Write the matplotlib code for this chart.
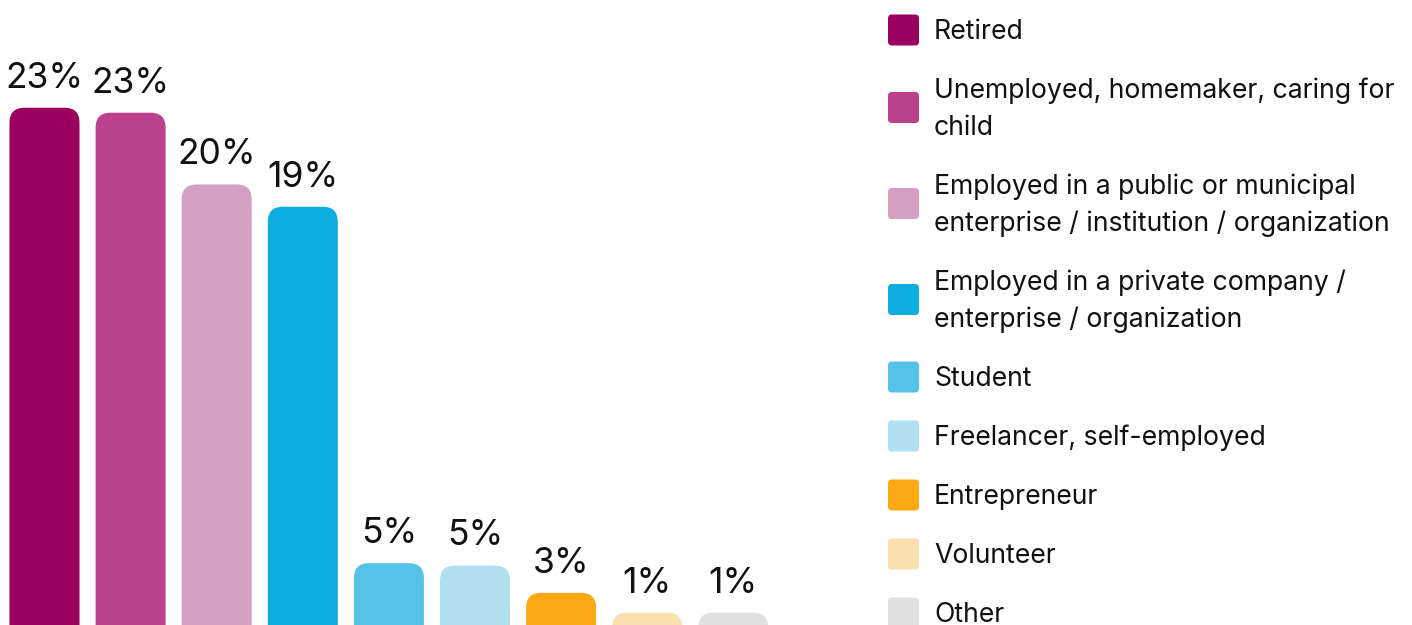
import matplotlib
matplotlib.use("Agg")
import matplotlib.pyplot as plt
from matplotlib.patches import FancyBboxPatch

plt.rcParams["font.family"] = ["Inter", "DejaVu Sans"]

# --- data -------------------------------------------------------------------
categories = [
    "Retired",
    "Unemployed, homemaker, caring for\nchild",
    "Employed in a public or municipal\nenterprise / institution / organization",
    "Employed in a private company /\nenterprise / organization",
    "Student",
    "Freelancer, self-employed",
    "Entrepreneur",
    "Volunteer",
    "Other",
]
shown_pct = [23, 23, 20, 19, 5, 5, 3, 1, 1]
# bar lengths as drawn in the picture (small bars have a visible minimum height)
bar_len = [23.0, 22.8, 19.9, 19.0, 4.6, 4.5, 3.4, 2.6, 2.6]
colors = ["#9B0060", "#BC418C", "#D59FC1", "#0DAEDF", "#55C3E8",
          "#B0DFF0", "#FCA914", "#FBE0AF", "#E0E0E0"]

W, H = 1412, 625
fig = plt.figure(figsize=(W / 100, H / 100), dpi=100)

# bars axes: spans left part of the figure, full height
px_step = 86.1          # pixels between bar centres
px_first = 44.5         # first bar centre, px
ax_w_px = 790
ax = fig.add_axes([0, 0, ax_w_px / W, 1])
px_per_pct = 24.75
base_px = 677           # baseline (below the visible area), px from top
ax.set_xlim(-px_first / px_step, (ax_w_px - px_first) / px_step)
ax.set_ylim((base_px - H) / px_per_pct, base_px / px_per_pct)
ax.axis("off")

bw = 70 / px_step
r_x = 15 / px_step
r_y = 15 / px_per_pct
for i, (h, lab, c) in enumerate(zip(bar_len, shown_pct, colors)):
    p = FancyBboxPatch((i - bw / 2, -5), bw, h + 5,
                       boxstyle=f"round,pad=0,rounding_size={r_x}",
                       mutation_aspect=r_y / r_x, fc=c, ec="none")
    ax.add_patch(p)
    ax.annotate(f"{lab}%", (i, h), xytext=(0, 14.5), textcoords="offset points",
                ha="center", va="baseline", fontsize=25.5, color="#111111")

# legend drawn in a pixel-space overlay
lg = fig.add_axes([0, 0, 1, 1])
lg.set_xlim(0, W)
lg.set_ylim(H, 0)
lg.axis("off")

y = 30
line_gap, item_gap = 37, 59
for cat, c in zip(categories, colors):
    lines = cat.split("\n")
    yc = y + (len(lines) - 1) * line_gap / 2
    lg.add_patch(FancyBboxPatch((888, yc - 15.5), 31, 31,
                                boxstyle="round,pad=0,rounding_size=4",
                                fc=c, ec="none"))
    for k, ln in enumerate(lines):
        lg.text(934, y + k * line_gap + 2, ln, ha="left", va="center",
                fontsize=19.2, color="#111111")
    y += (len(lines) - 1) * line_gap + item_gap

fig.savefig("out.png", dpi=100)
